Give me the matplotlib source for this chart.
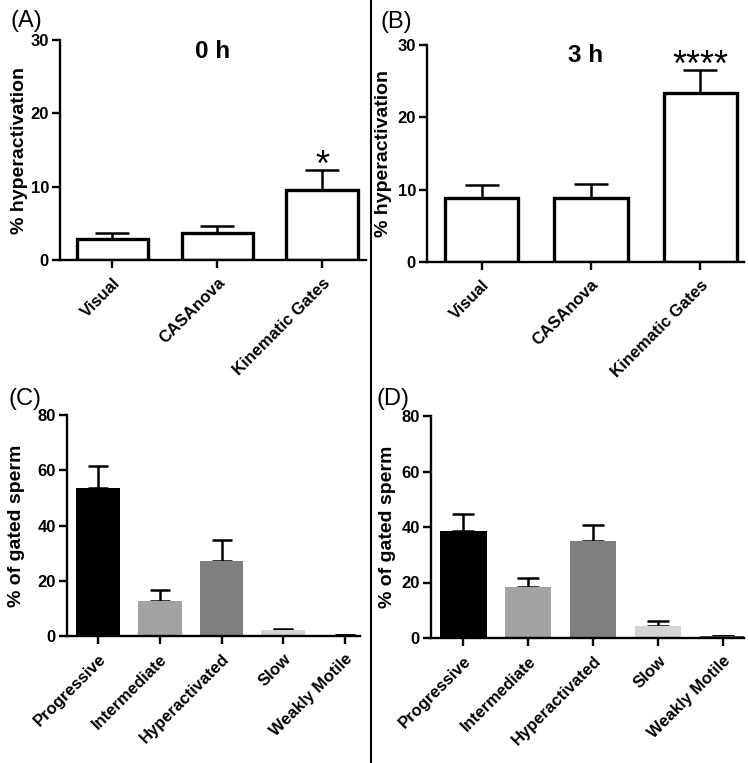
import matplotlib
matplotlib.use("Agg")
import matplotlib.pyplot as plt

plt.rcParams['font.family'] = ['Liberation Sans', 'DejaVu Sans']

# top row: % hyperactivation by method
methods = ["Visual", "CASAnova", "Kinematic Gates"]
hyper_0h = [2.9, 3.7, 9.5]
hyper_0h_err = [0.8, 0.9, 2.8]
hyper_3h = [8.8, 8.9, 23.3]
hyper_3h_err = [1.8, 1.9, 3.3]

# bottom row: % of gated sperm by class
classes = ["Progressive", "Intermediate", "Hyperactivated", "Slow", "Weakly Motile"]
gated_0h = [53.5, 12.8, 27.0, 2.0, 0.3]
gated_0h_err = [8.2, 4.0, 7.9, 0.6, 0.2]
gated_3h = [38.6, 18.5, 35.0, 4.3, 0.6]
gated_3h_err = [6.2, 3.2, 5.8, 1.8, 0.3]
class_colors = ['#000000', '#a3a3a3', '#7f7f7f', '#d4d4d4', '#4a4a4a']

W, H = 748, 763
fig = plt.figure(figsize=(W / 100, H / 100), dpi=100)


def place(l, r, t, b):
    return fig.add_axes([l / W, 1 - b / H, (r - l) / W, (b - t) / H])


def style(ax):
    for s in ['top', 'right']:
        ax.spines[s].set_visible(False)
    for s in ['left', 'bottom']:
        ax.spines[s].set_linewidth(1.7)
    ax.tick_params(axis='both', width=1.7, length=6, labelsize=12, pad=2)
    ax.tick_params(axis='x', pad=5)
    for t in ax.get_yticklabels():
        t.set_fontweight('bold')


def top_panel(ax, vals, errs, xmax, capsize, width, title, stars, label_x):
    x = list(range(len(methods)))
    ax.errorbar(x, vals, yerr=[[0] * len(vals), errs], fmt='none', ecolor='black',
                elinewidth=1.8, capsize=capsize, capthick=1.8, zorder=1)
    ax.bar(x, vals, width=width, color='white', edgecolor='black', linewidth=2.4, zorder=2)
    ax.set_xlim(-0.5, xmax)
    ax.set_ylim(0, 30)
    ax.set_yticks([0, 10, 20, 30])
    ax.set_xticks(x)
    ax.set_xticklabels(methods, rotation=45, ha='right', rotation_mode='anchor',
                       fontweight='bold', fontsize=12)
    style(ax)
    ax.set_ylabel('% hyperactivation', fontsize=14, fontweight='bold')
    ax.yaxis.set_label_coords(label_x, 0.5)
    ax.text(0.5, 0.95, title, transform=ax.transAxes, ha='center', va='center',
            fontsize=17.5, fontweight='bold')
    ax.text(2, vals[2] + errs[2] + 2.8, stars, ha='center', va='top', fontsize=26)


def bottom_panel(ax, vals, errs, xmax, capsize, label_x):
    x = list(range(len(classes)))
    ax.errorbar(x, vals, yerr=[[0] * len(vals), errs], fmt='none', ecolor='black',
                elinewidth=1.8, capsize=capsize, capthick=1.8, zorder=1)
    ax.bar(x, vals, width=0.71, color=class_colors, edgecolor='none', zorder=2)
    ax.set_xlim(-0.5, xmax)
    ax.set_ylim(0, 80)
    ax.set_yticks([0, 20, 40, 60, 80])
    ax.set_xticks(x)
    ax.set_xticklabels(classes, rotation=45, ha='right', rotation_mode='anchor',
                       fontweight='bold', fontsize=12)
    style(ax)
    ax.set_ylabel('% of gated sperm', fontsize=14, fontweight='bold')
    ax.yaxis.set_label_coords(label_x, 0.5)


axA = place(60, 366, 40, 260)
top_panel(axA, hyper_0h, hyper_0h_err, 2.42, 12, 0.68, '0 h', '*', -0.105)
axB = place(427, 744, 45, 262)
top_panel(axB, hyper_3h, hyper_3h_err, 2.40, 12, 0.67, '3 h', '****', -0.11)
axC = place(67, 360, 415, 636)
bottom_panel(axC, gated_0h, gated_0h_err, 4.24, 7.5, -0.143)
axD = place(431, 744, 416, 638)
bottom_panel(axD, gated_3h, gated_3h_err, 4.32, 8, -0.111)

# panel letters
for lab, px, py in [('(A)', 11, 21), ('(B)', 380, 22), ('(C)', 9, 399), ('(D)', 377, 399)]:
    fig.text(px / W, 1 - py / H, lab, ha='left', va='center', fontsize=17)

# divider between columns
fig.add_artist(plt.Line2D([371 / W, 371 / W], [0, 1], color='black', linewidth=1.5))

fig.savefig('out.png', dpi=100)
